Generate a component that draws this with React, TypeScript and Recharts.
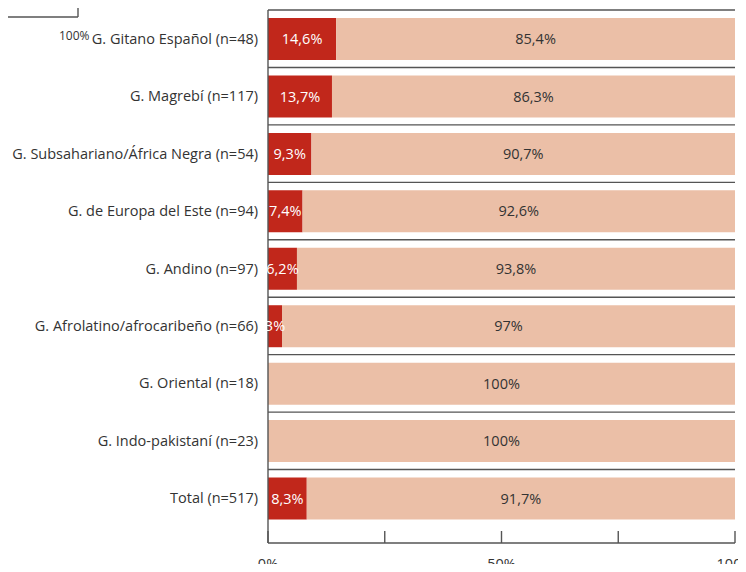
import React from "react";
import { BarChart, Bar, XAxis, YAxis, LabelList } from "recharts";

const categories = [
  "G. Gitano Español (n=48)",
  "G. Magrebí (n=117)",
  "G. Subsahariano/África Negra (n=54)",
  "G. de Europa del Este (n=94)",
  "G. Andino (n=97)",
  "G. Afrolatino/afrocaribeño (n=66)",
  "G. Oriental (n=18)",
  "G. Indo-pakistaní (n=23)",
  "Total (n=517)",
];
const yesValues = [14.6, 13.7, 9.3, 7.4, 6.2, 3, 0, 0, 8.3];
const noValues = [85.4, 86.3, 90.7, 92.6, 93.8, 97, 100, 100, 91.7];
const xTicks = [0, 25, 50, 75, 100];
const xTickLabels = ["0%", "", "50%", "", "100%"];

const data = categories.map((name, i) => ({ name, yes: yesValues[i], no: noValues[i] }));

const W = 746;
const H = 572;
const X_AXIS_H = 29;
const MARGIN = { top: 10, right: 11, bottom: 0, left: 0 };
const Y_AXIS_W = 268;
const Y_PAD_BOTTOM = 16;
const PLOT_LEFT = MARGIN.left + Y_AXIS_W;
const PLOT_RIGHT = W - MARGIN.right;
const PLOT_H = H - MARGIN.top - MARGIN.bottom - X_AXIS_H;
const BAND = (PLOT_H - Y_PAD_BOTTOM) / categories.length;

const FONT = "'Open Sans', sans-serif";
const FS = 14.5;
const TEXT = "#333333";
const LINE = "#555555";
const RED = "#c1271b";
const PINK = "#ebbfa7";

const fmt = (v: any) => {
  const n = Number(v);
  if (!n) return "";
  return String(n).replace(".", ",") + "%";
};

const YTick = (props: any) => {
  const { x, y, payload } = props;
  const top = y - BAND / 2;
  return (
    <g>
      <line x1={PLOT_LEFT} x2={PLOT_RIGHT} y1={top} y2={top} stroke={LINE} strokeWidth={1.4} />
      <text x={x} y={y} dy={5} textAnchor="end" fill={TEXT} fontSize={FS} fontFamily={FONT}>
        {payload.value}
      </text>
    </g>
  );
};

const XTick = (props: any) => {
  const { x, y, index } = props;
  const label = xTickLabels[index];
  return (
    <g>
      <line x1={x} x2={x} y1={y - 12} y2={y} stroke={LINE} strokeWidth={1.4} />
      {label ? (
        <text x={x} y={y + 26} textAnchor="middle" fill={TEXT} fontSize={FS} fontFamily={FONT}>
          {label}
        </text>
      ) : null}
    </g>
  );
};

export default function App() {
  return (
    <div style={{ position: "relative", width: W, height: H, margin: -8, background: "#fff" }}>
      <BarChart
        width={W}
        height={H}
        data={data}
        layout="vertical"
        margin={MARGIN}
        barSize={42}
      >
        <XAxis
          type="number"
          domain={[0, 100]}
          ticks={xTicks}
          interval={0}
          height={X_AXIS_H}
          tickSize={0}
          tickMargin={0}
          tickLine={false}
          axisLine={{ stroke: LINE, strokeWidth: 1.4 }}
          tick={<XTick />}
        />
        <YAxis
          type="category"
          dataKey="name"
          width={Y_AXIS_W}
          interval={0}
          padding={{ top: 0, bottom: Y_PAD_BOTTOM }}
          tickSize={0}
          tickMargin={10}
          tickLine={false}
          axisLine={{ stroke: LINE, strokeWidth: 1.4 }}
          tick={<YTick />}
        />
        <Bar dataKey="yes" stackId="a" fill={RED} isAnimationActive={false}>
          <LabelList
            dataKey="yes"
            position="center"
            formatter={fmt}
            fill="#ffffff"
            fontSize={FS}
            fontFamily={FONT}
          />
        </Bar>
        <Bar dataKey="no" stackId="a" fill={PINK} isAnimationActive={false}>
          <LabelList
            dataKey="no"
            position="center"
            formatter={fmt}
            fill={TEXT}
            fontSize={FS}
            fontFamily={FONT}
          />
        </Bar>
      </BarChart>
      <svg
        width={100}
        height={50}
        style={{ position: "absolute", left: 0, top: 0, pointerEvents: "none" }}
      >
        <line x1={0} x2={78} y1={17} y2={17} stroke={LINE} strokeWidth={1.4} />
        <line x1={78} x2={78} y1={7} y2={17} stroke={LINE} strokeWidth={1.4} />
        <text x={59} y={40} fill={TEXT} fontSize={12} fontFamily={FONT}>
          100%
        </text>
      </svg>
    </div>
  );
}
